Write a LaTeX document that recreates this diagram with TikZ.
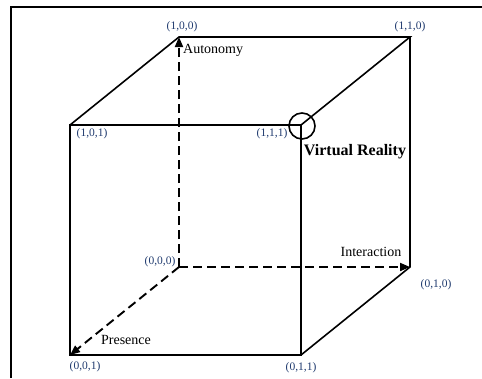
\documentclass[tikz,border=0pt]{standalone}
\usepackage{fontspec}
\setmainfont{Liberation Serif}
\usetikzlibrary{arrows.meta,positioning}

\definecolor{coordblue}{HTML}{1F3A6E}

\begin{document}
\begin{tikzpicture}[
  x=1pt, y=-1pt,
  edge/.style={line width=1.6pt},
  axis/.style={-{Triangle[length=10pt,width=8pt]}, line width=1.9pt, dash pattern=on 9pt off 5pt},
  corner/.style={font=\fontsize{11.5}{12}\selectfont, text=coordblue, inner sep=0pt},
  axislabel/.style={font=\fontsize{14}{15}\selectfont, inner sep=0pt}
]

\useasboundingbox (0,0) rectangle (482,378);

% Frame
\draw[line width=2pt] (10.5,378) -- (10.5,7) -- (482,7);

% Cube corners
\coordinate (c000) at (179,267);
\coordinate (c100) at (179,37);
\coordinate (c010) at (410,267);
\coordinate (c001) at (70,355);
\coordinate (c110) at (410,37);
\coordinate (c101) at (70,125);
\coordinate (c011) at (301,355);
\coordinate (c111) at (301,125);

% Solid edges
\draw[edge] (c101) -- (c111) -- (c011) -- (c001) -- cycle;
\draw[edge] (c101) -- (c100) -- (c110) -- (c111);
\draw[edge] (c110) -- (c010) -- (c011);

% Axes
\draw[axis] (c000) -- (c100);
\draw[axis] (c000) -- (c010);
\draw[axis] (c000) -- (c001);

% Corner labels
\node[corner] (l100) at (182,27) {(1,0,0)};
\node[corner] (l110) at (410,27) {(1,1,0)};
\node[corner] (l101) at (92,134) {(1,0,1)};
\node[corner] (l111) at (272,134) {(1,1,1)};
\node[corner] (l000) at (160,262) {(0,0,0)};
\node[corner] (l010) at (436,285) {(0,1,0)};
\node[corner] (l001) at (85,367) {(0,0,1)};
\node[corner] (l011) at (301,368) {(0,1,1)};

% Axis labels
\node[axislabel, anchor=west] (autonomy) at (183,50) {Autonomy};
\node[axislabel] (interaction) at (371,252) {Interaction};
\node[axislabel] (presence) at (126,340) {Presence};

% Virtual reality corner
\node[draw, circle, line width=1.6pt, minimum size=26pt, inner sep=0pt] (vrcircle) at (302,126) {};
\node[font=\fontsize{16}{17}\selectfont\bfseries, inner sep=0pt] (vr) at (355,152) {Virtual Reality};

\end{tikzpicture}
\end{document}
